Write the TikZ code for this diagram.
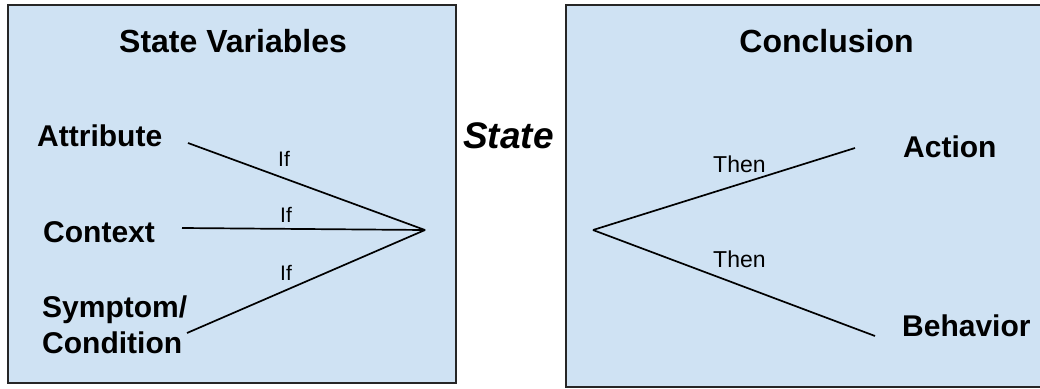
\documentclass[tikz,border=0pt]{standalone}
\usepackage{fontspec}
\setmainfont{Liberation Sans}
\definecolor{boxblue}{RGB}{207,226,243}
\tikzset{
  box/.style={fill=boxblue,draw=black!85,line width=1.2pt},
  heading/.style={anchor=base,inner sep=0pt,font=\fontsize{32}{38}\selectfont\bfseries},
  term/.style={anchor=base west,inner sep=0pt,align=left,font=\fontsize{30}{36}\selectfont\bfseries},
  cue/.style={anchor=base west,inner sep=0pt,font=\fontsize{21}{25}\selectfont},
  link/.style={line width=1.7pt}
}
\begin{document}
\begin{tikzpicture}[x=1pt,y=-1pt]
\useasboundingbox (0,0) rectangle (1040,388);
\fill[white] (0,0) rectangle (1040,388);
\draw[box] (8,5) rectangle (456,383);
\draw[box] (566,5) rectangle (1050,387);

\node[heading] (vars) at (233,52.5) {State Variables};
\node[heading] (concl) at (826.5,52) {Conclusion};
\node[anchor=base west,inner sep=0pt,font=\fontsize{37}{44}\selectfont\bfseries\itshape] (state) at (463,148) {State};

\node[term] (attr) at (37,146) {Attribute};
\node[term] (ctx) at (43,242) {Context};
\node[term] (symp) at (42,353) {Symptom/\\Condition};
\node[term] (act) at (903,157) {Action};
\node[term] (beh) at (902,336) {Behavior};

\node[cue] (if1) at (278,166) {If};
\node[cue] (if2) at (280,222) {If};
\node[cue] (if3) at (280,280) {If};
\node[cue,font=\fontsize{23}{28}\selectfont] (then1) at (713,172) {Then};
\node[cue,font=\fontsize{23}{28}\selectfont] (then2) at (713,267) {Then};

\coordinate (ifhub) at (425,230);
\coordinate (thenhub) at (593,230);
\coordinate (attr-in) at (188,143);
\coordinate (ctx-in) at (182,228);
\coordinate (symp-in) at (187,333);
\coordinate (act-out) at (855,148);
\coordinate (beh-out) at (875,336);

\draw[link] (attr-in) -- (ifhub);
\draw[link] (ctx-in) -- (ifhub);
\draw[link] (symp-in) -- (ifhub);
\draw[link] (thenhub) -- (act-out);
\draw[link] (thenhub) -- (beh-out);
\end{tikzpicture}
\end{document}
